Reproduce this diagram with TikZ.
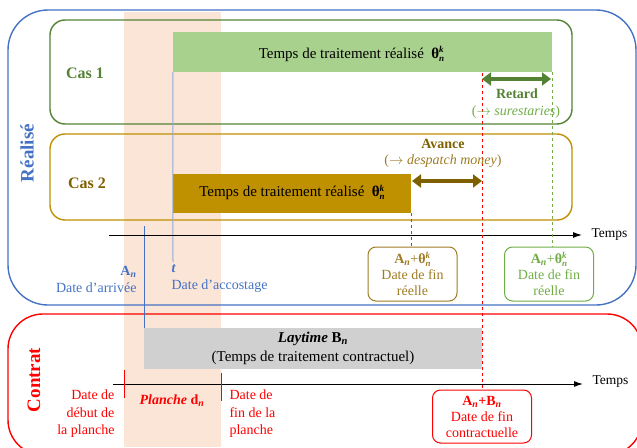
\documentclass[tikz,border=0pt]{standalone}
\usepackage{fontspec}
\setmainfont{Liberation Serif}
\usepackage{xcolor}
\usetikzlibrary{arrows.meta,positioning}

\definecolor{realblue}{HTML}{4472C4}
\definecolor{paleblue}{HTML}{8FAADC}
\definecolor{casgreen}{HTML}{548235}
\definecolor{ltgreen}{HTML}{70AD47}
\definecolor{bargreen}{HTML}{A9D18E}
\definecolor{casgold}{HTML}{BF9000}
\definecolor{darkgold}{HTML}{7F6000}
\definecolor{midgold}{HTML}{9E7C24}
\definecolor{contred}{HTML}{FF0000}
\definecolor{peach}{HTML}{FBE5D6}
\definecolor{laygray}{HTML}{D0D0D0}

\newcommand{\An}{\textbf{A\textsubscript{\textit{n}}}}
\newcommand{\kn}{\raisebox{-3pt}{\fontsize{9}{8.5}\selectfont\renewcommand{\arraystretch}{1}%
  \begin{tabular}[b]{@{}l@{}}\textit{k}\\\textit{n}\end{tabular}}}
\newcommand{\thetakn}{\textbf{θ\kn}}
\newcommand{\fsz}[1]{\fontsize{#1}{#1}\selectfont}

\begin{document}
\begin{tikzpicture}[
  x=1pt, y=-1pt,
  font=\fontsize{14}{17}\selectfont,
  frame/.style={line width=1.4pt, rounded corners=40pt},
  casbox/.style={line width=1.4pt, rounded corners=15pt},
  bar/.style={inner sep=0pt, minimum height=40pt, font=\fsz{15}},
  finbox/.style={draw, line width=1pt, rounded corners=8pt, align=center,
                 minimum width=89pt, minimum height=54pt, inner sep=1pt,
                 font=\fontsize{14}{16}\selectfont},
  dbl/.style={{Triangle[length=9pt,width=13pt]}-{Triangle[length=9pt,width=13pt]},
              line width=4pt},
  axis/.style={-{Latex[length=9pt,width=6pt]}, line width=1pt},
  guide/.style={dashed, line width=0.9pt}
]
\useasboundingbox (0,0) rectangle (637,447);

% planche band and outer frames
\fill[peach] (124,12) rectangle (221,447);
\draw[frame, realblue] (8,10) rectangle (636,305);
\draw[frame, contred, rounded corners=35pt] (8,314) rectangle (642,455);
\node[rotate=90, font=\bfseries\fsz{19}, text=realblue] (realise) at (27,153) {Réalisé};
\node[rotate=90, font=\bfseries\fsz{19}, text=contred] (contrat) at (34,380) {Contrat};

% case 1
\draw[casbox, casgreen] (50,20) rectangle (572,124);
\node[font=\bfseries\fsz{16}, text=casgreen] (cas1) at (85,73) {Cas 1};
\node[bar, fill=bargreen, minimum width=379pt] (bar1) at (362.5,52) {};
\node[font=\fsz{15}] (bar1txt) at ([xshift=-11pt,yshift=-3pt]bar1.center)
  {Temps de traitement réalisé\enspace\thetakn};
% case 2
\draw[casbox, casgold] (50,134) rectangle (572,220);
\node[font=\bfseries\fsz{16}, text=darkgold] (cas2) at (87,183) {Cas 2};
\node[bar, fill=casgold, minimum width=238pt, minimum height=39pt] (bar2) at (292,193.5)
  {Temps de traitement réalisé\enspace\thetakn};

% contract
\node[bar, fill=laygray, minimum width=338pt, minimum height=41pt, align=center,
      font=\fontsize{15}{19}\selectfont] (lay) at (313,348.5)
  {\textbf{\textit{Laytime} B\textsubscript{\textit{n}}}\\(Temps de traitement contractuel)};

% arrival and berthing
\coordinate (arrtop) at (144,226);
\coordinate (ttop) at (bar1.south west);
\coordinate (tbot) at (173,262);
\draw[paleblue, line width=1pt] (ttop) -- (tbot);
\draw[realblue, line width=0.9pt] (arrtop) -- (arrtop |- lay.north);

% time axes
\coordinate (ax1s) at (109,235);
\coordinate (ax1e) at (582,235);
\draw[axis] (ax1s) -- (ax1e);
\node[anchor=west, font=\fsz{13.5}] (temps1) at ([xshift=6pt]ax1e) {Temps};
\coordinate (ax2s) at (113,384);
\coordinate (ax2e) at (583,384);
\draw[axis] (ax2s) -- (ax2e);
\node[anchor=west, font=\fsz{13.5}] (temps2) at ([xshift=6pt,yshift=2pt]ax2e) {Temps};

% labels on the realised axis
\node[anchor=east, align=right, text=realblue] (arrlbl) at (140,279)
  {\An\\Date d’arrivée};
\node[anchor=west, align=left, text=realblue] (acclbl) at (168,279)
  {\textbf{\textit{t}}\\Date d’accostage};

% end dates
\node[finbox, draw=midgold, text=midgold] (fingold) at (412.5,274)
  {\An+\thetakn\\Date de fin\\réelle};
\node[finbox, draw=ltgreen, text=ltgreen] (fingreen) at (549,274)
  {\An+\thetakn\\Date de fin\\réelle};
\node[finbox, draw=contred, text=contred, minimum width=99pt, minimum height=53pt]
  (finred) at (482,416.5)
  {\textbf{A\textsubscript{\textit{n}}+B\textsubscript{\textit{n}}}\\Date de fin\\contractuelle};

% dashed guides
\coordinate (redtop) at (482,73);
\coordinate (greentop) at (bar1.south east);
\coordinate (goldtop) at (bar2.south east);
\draw[guide, contred] (redtop) -- (finred.north);
\draw[guide, ltgreen] (greentop) -- (greentop |- fingreen.north);
\draw[guide, darkgold] (goldtop) -- (goldtop |- fingold.north);

% delay and advance
\coordinate (retl) at (482,79);
\coordinate (retr) at (551,79);
\draw[dbl, casgreen] (retl) -- (retr);
\node[font=\bfseries\fsz{14}, text=casgreen] (retard) at (517,94) {Retard};
\node[text=ltgreen] (sures) at (516,112) {($\rightarrow$ \textit{surestaries})};
\coordinate (avl) at (412,181);
\coordinate (avr) at (482,181);
\draw[dbl, darkgold] (avl) -- (avr);
\node[font=\bfseries\fsz{14}, text=darkgold] (avance) at (443,144) {Avance};
\node[text=midgold] (despatch) at (443,161) {($\rightarrow$ \textit{despatch money})};

% planche
\coordinate (pl1a) at (124,370);
\coordinate (pl1b) at (124,398);
\coordinate (pl2a) at (221,373);
\coordinate (pl2b) at (221,401);
\draw[contred, line width=1pt] (pl1a) -- (pl1b);
\draw[contred, line width=1pt] (pl2a) -- (pl2b);
\node[text=contred] (planche) at (172,401) {\textbf{\textit{Planche} d\textsubscript{\textit{n}}}};
\node[anchor=east, align=right, text=contred, font=\fontsize{14}{17.5}\selectfont]
  (debut) at (118,414) {Date de\\début de\\la planche};
\node[anchor=west, align=left, text=contred, font=\fontsize{14}{17.5}\selectfont]
  (fin) at (226,414) {Date de\\fin de la\\planche};
\end{tikzpicture}
\end{document}
